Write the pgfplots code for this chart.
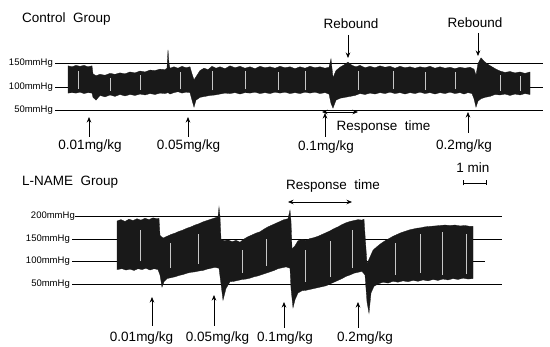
\documentclass[border=0pt]{standalone}
\usepackage{fontspec}
\setmainfont{Liberation Sans}
\usepackage{pgfplots}
\pgfplotsset{compat=1.18}
\usetikzlibrary{arrows.meta}
\newcommand{\lbl}{\fontsize{13.5}{15}\selectfont}
\newcommand{\sml}{\fontsize{9.5}{11}\selectfont}
\begin{document}
\begin{tikzpicture}
\path[use as bounding box] (0,0) rectangle (550pt,-347pt);
% ---------------- Control group ----------------
\begin{axis}[at={(0pt,-152.8pt)}, anchor=south west, x=1pt, y=0.47pt,
  xmin=0, xmax=550, ymin=-40, ymax=200, hide axis, clip=false, unbounded coords=jump]
\addplot[black, line width=0.7pt] coordinates {(55,150) (543,150)};
\addplot[black, line width=0.7pt] coordinates {(55,100) (543,100)};
\addplot[black, line width=0.7pt] coordinates {(55,50) (543,50)};
\addplot[fill=black!90, draw=black!90, line width=0.3pt] coordinates {
(68,87) (68,145) (72,143) (76,146) (80,144) (84,146) (88,143) (92,145) (93,128) (96,124) (100,127)
(105,125) (110,129) (115,127) (120,130) (125,128) (130,132) (135,130) (140,134) (145,132) (150,136)
(155,135) (160,138) (165,137) (167,140) (168,179) (169,150) (170,140) (174,143) (178,140) (182,144)
(186,141) (190,143) (192,128) (194,115) (197,125) (200,135) (204,140) (208,137) (212,144) (216,140)
(220,143) (225,139) (230,145) (235,141) (240,144) (245,140) (250,143) (255,139) (260,144) (265,141)
(270,143) (275,140) (280,144) (285,141) (290,143) (295,139) (300,143) (305,140) (310,144) (315,141)
(320,143) (325,140) (329,142) (331,160) (333,120) (336,135) (340,142) (344,147) (348,153) (352,146)
(356,143) (360,146) (365,141) (370,144) (375,141) (380,145) (385,142) (390,144) (395,140) (400,144)
(405,141) (410,143) (415,140) (420,143) (425,141) (430,144) (435,140) (440,143) (445,140) (450,142)
(455,139) (460,142) (465,140) (470,142) (474,138) (476,125) (478,150) (481,162) (484,155) (488,148)
(492,143) (496,138) (500,134) (505,131) (510,133) (515,130) (520,132) (525,129) (530,132)
(530,84) (525,86) (520,83) (515,85) (510,82) (505,85) (500,83) (495,84) (490,80) (485,78) (481,75)
(478,70) (476,57) (474,75) (472,86) (468,88) (464,85) (460,88) (455,86) (450,89) (445,86) (440,88)
(435,85) (430,88) (425,86) (420,89) (415,86) (410,88) (405,85) (400,88) (395,86) (390,89) (385,86)
(380,88) (375,85) (370,87) (365,84) (360,86) (355,82) (350,80) (345,78) (340,76) (336,72) (333,55)
(331,65) (329,85) (325,88) (320,86) (315,89) (310,87) (305,89) (300,86) (295,88) (290,86) (285,89)
(280,87) (275,89) (270,86) (265,88) (260,86) (255,89) (250,87) (245,88) (240,85) (235,88) (230,86)
(225,87) (220,85) (215,83) (210,82) (205,80) (200,78) (196,72) (194,57) (192,72) (190,88) (186,89)
(182,87) (178,90) (174,88) (170,85) (168,88) (165,86) (160,87) (155,84) (150,86) (145,83) (140,85)
(135,82) (130,84) (125,81) (120,84) (115,80) (110,83) (105,79) (100,82) (96,72) (93,78) (92,87)
(88,88) (84,86) (80,89) (76,87) (72,88)
} -- cycle;
\addplot[gray!45, line width=0.6pt] coordinates {
(78,96) (78,134) (78,nan) (110,92) (110,120) (110,nan) (140,94) (140,126) (140,nan)
(180,95) (180,132) (180,nan) (212,93) (212,134) (212,nan) (245,95) (245,133) (245,nan)
(278,94) (278,131) (278,nan) (305,93) (305,134) (305,nan) (358,94) (358,135) (358,nan)
(393,95) (393,133) (393,nan) (425,94) (425,132) (425,nan) (455,95) (455,131) (455,nan)
(500,92) (500,125) (500,nan) (520,91) (520,123)};
\end{axis}
% ---------------- L-NAME group ----------------
\begin{axis}[at={(0pt,-324.5pt)}, anchor=south west, x=1pt, y=0.45pt,
  xmin=0, xmax=550, ymin=-40, ymax=240, hide axis, clip=false, unbounded coords=jump]
\addplot[black, line width=0.7pt] coordinates {(75,200) (502,200)};
\addplot[black, line width=0.7pt] coordinates {(72,150) (502,150)};
\addplot[black, line width=0.7pt] coordinates {(72,100) (485,100)};
\addplot[black, line width=0.7pt] coordinates {(72,50) (502,50)};
\addplot[fill=black!90, draw=black!90, line width=0.3pt] coordinates {
(117,82) (117,190) (121,193) (125,189) (129,194) (133,191) (137,195) (141,192) (145,196) (149,193)
(153,197) (157,195) (159,196) (160,158) (163,152) (167,156) (171,160) (175,163) (179,167) (183,170)
(187,174) (191,177) (195,181) (199,184) (203,188) (207,191) (211,194) (215,197) (218,199) (219,221)
(220,200) (221,150) (224,146) (228,148) (232,144) (236,147) (240,143) (244,150) (248,155) (252,159)
(256,163) (260,166) (264,172) (268,177) (272,181) (276,185) (280,189) (284,193) (288,195) (290,214)
(291,190) (292,128) (295,135) (298,146) (302,149) (306,147) (310,151) (314,153) (318,156) (322,160)
(326,164) (330,168) (334,173) (338,177) (342,182) (346,186) (350,189) (354,191) (358,193) (362,192)
(364,194) (365,160) (367,95) (370,110) (373,125) (377,133) (381,140) (385,146) (389,151) (393,156)
(397,160) (401,164) (405,167) (409,170) (413,172) (417,174) (421,175) (425,177) (430,178) (435,179)
(440,180) (445,181) (450,180) (455,181) (460,179) (465,180) (470,178) (473,178)
(473,62) (468,61) (463,63) (458,60) (453,62) (448,59) (443,61) (438,58) (433,60) (428,57) (423,59)
(418,56) (413,58) (408,55) (403,57) (398,54) (393,56) (388,52) (383,54) (378,50) (374,45) (371,30)
(369,-15) (367,10) (365,70) (362,78) (358,76) (354,74) (350,70) (346,67) (342,62) (338,58) (334,54)
(330,50) (326,46) (322,44) (318,42) (314,40) (310,38) (306,36) (302,35) (298,30) (295,15) (293,-3)
(291,40) (290,85) (286,88) (282,86) (278,84) (274,80) (270,77) (266,74) (262,71) (258,68) (254,66)
(250,63) (246,61) (242,60) (238,58) (234,56) (230,55) (226,40) (223,14) (221,50) (219,85) (215,87)
(211,85) (207,83) (203,80) (199,79) (195,77) (191,76) (187,74) (183,71) (179,69) (175,66) (171,64)
(167,62) (164,55) (162,43) (160,70) (158,82) (154,84) (150,81) (146,85) (142,82) (138,84) (134,80)
(130,83) (126,81) (122,84)
} -- cycle;
\addplot[gray!45, line width=0.6pt] coordinates {
(140,100) (140,170) (140,nan) (170,85) (170,140) (170,nan) (198,95) (198,160) (198,nan)
(242,75) (242,125) (242,nan) (266,90) (266,150) (266,nan) (305,55) (305,125) (305,nan)
(330,65) (330,145) (330,nan) (352,85) (352,170) (352,nan) (395,70) (395,140) (395,nan)
(420,75) (420,160) (420,nan) (442,70) (442,165) (442,nan) (466,72) (466,160)};
\end{axis}
% ---------------- annotations ----------------
\begin{scope}[x=1pt, y=-1pt]
\tikzset{arr/.style={-{Stealth[length=5.5pt,width=4.5pt]}, line width=0.7pt},
         darr/.style={{Stealth[length=5.5pt,width=4.5pt]}-{Stealth[length=5.5pt,width=4.5pt]}, line width=0.7pt}}
\node[anchor=base west, inner sep=0pt] at (22,23) {\lbl Control\ \ Group};
\node[anchor=east, inner sep=0pt] at (53,63.5) {\sml 150mmHg};
\node[anchor=east, inner sep=0pt] at (53,87) {\sml 100mmHg};
\node[anchor=east, inner sep=0pt] at (53,110.5) {\sml 50mmHg};
\draw[arr] (89,137) -- (89,117);
\draw[arr] (188,137) -- (188,117);
\draw[arr] (325,137) -- (325,113);
\draw[arr] (468,133) -- (468,112);
\node[anchor=base, inner sep=0pt] at (90,150) {\lbl 0.01mg/kg};
\node[anchor=base, inner sep=0pt] at (188.5,150) {\lbl 0.05mg/kg};
\node[anchor=base, inner sep=0pt] at (326,151) {\lbl 0.1mg/kg};
\node[anchor=base, inner sep=0pt] at (464,150) {\lbl 0.2mg/kg};
\draw[darr] (322,112) -- (358,112);
\node[anchor=base, inner sep=0pt] at (383.5,131) {\lbl Response\ \ time};
\node[anchor=base, inner sep=0pt] at (351,29) {\lbl Rebound};
\node[anchor=base, inner sep=0pt] at (475,28) {\lbl Rebound};
\draw[arr] (348,35) -- (348,58);
\draw[arr] (478,33) -- (478,56);
\node[anchor=base, inner sep=0pt] at (473,173) {\lbl 1 min};
\draw[line width=0.7pt, {Bar[width=5pt]}-{Bar[width=5pt]}] (463,183) -- (487,183);
% bottom
\node[anchor=base west, inner sep=0pt] at (22,186) {\lbl L-NAME\ \ Group};
\node[anchor=east, inner sep=0pt] at (75,216) {\sml 200mmHg};
\node[anchor=east, inner sep=0pt] at (70,239) {\sml 150mmHg};
\node[anchor=east, inner sep=0pt] at (70,261.5) {\sml 100mmHg};
\node[anchor=east, inner sep=0pt] at (70,284) {\sml 50mmHg};
\draw[arr] (152,326) -- (152,297);
\draw[arr] (214,326) -- (214,295);
\draw[arr] (284,328) -- (284,302);
\draw[arr] (358,328) -- (358,302);
\node[anchor=base, inner sep=0pt] at (141.5,342) {\lbl 0.01mg/kg};
\node[anchor=base, inner sep=0pt] at (217.5,342) {\lbl 0.05mg/kg};
\node[anchor=base, inner sep=0pt] at (285,342) {\lbl 0.1mg/kg};
\node[anchor=base, inner sep=0pt] at (365,342) {\lbl 0.2mg/kg};
\draw[darr] (288,202) -- (352,202);
\node[anchor=base, inner sep=0pt] at (333,190) {\lbl Response\ \ time};
\end{scope}
\end{tikzpicture}
\end{document}
